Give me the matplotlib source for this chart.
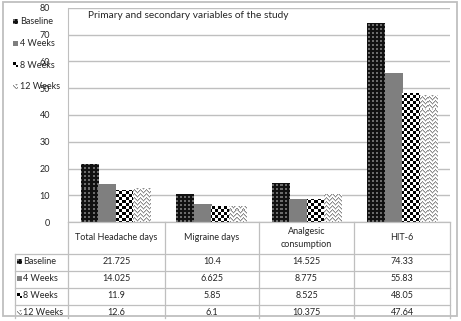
import numpy as np
import matplotlib
matplotlib.use("Agg")
import matplotlib.pyplot as plt
from matplotlib.patches import Rectangle

categories = ["Total Headache days", "Migraine days", "Analgesic\nconsumption", "HIT-6"]
series_names = ["Baseline", "4 Weeks", "8 Weeks", "12 Weeks"]
baseline = [21.725, 10.4, 14.525, 74.33]
weeks4 = [14.025, 6.625, 8.775, 55.83]
weeks8 = [11.9, 5.85, 8.525, 48.05]
weeks12 = [12.6, 6.1, 10.375, 47.64]
table_text = [["21.725", "10.4", "14.525", "74.33"],
              ["14.025", "6.625", "8.775", "55.83"],
              ["11.9", "5.85", "8.525", "48.05"],
              ["12.6", "6.1", "10.375", "47.64"]]
yticks = [0, 10, 20, 30, 40, 50, 60, 70, 80]
title = "Primary and secondary variables of the study"

plt.rcParams['font.family'] = ['Lato', 'DejaVu Sans']
W, H = 461, 321
fig = plt.figure(figsize=(W / 100, H / 100), dpi=100)

def texture(kind, h, w):
    r = np.arange(h)[:, None]
    c = np.arange(w)[None, :]
    img = np.ones((h, w, 3))
    if kind == "dots":
        img[:] = 0.07
        m = ((r % 4) < 2) & ((c % 4) < 2)
        img[np.broadcast_to(m, (h, w))] = 0.42
    elif kind == "gray":
        img[:] = 0.5
    elif kind == "checker":
        m = (((r // 3) + (c // 3)) % 2) == 0
        img[np.broadcast_to(m, (h, w))] = 0.0
    elif kind == "zigzag":
        tri = np.abs(((c % 6) - 3))  # 3,2,1,0,1,2
        m = ((r + tri) % 4) == 0
        img[np.broadcast_to(m, (h, w))] = 0.55
        m2 = ((r + tri) % 4) == 1
        img[np.broadcast_to(m2, (h, w))] = 0.8
    return img

kinds = ["dots", "gray", "checker", "zigzag"]
grid_col = "#bfbfbf"
txt_col = "#262626"

# main axes
L, R, T, B = 68, 450, 8, 222
ax = fig.add_axes([L / W, 1 - B / H, (R - L) / W, (B - T) / H])
x = np.arange(len(categories))
bw = 0.183
all_series = [baseline, weeks4, weeks8, weeks12]
for i, vals in enumerate(all_series):
    bars = ax.bar(x + (i - 1.5) * bw, vals, bw, color="white", linewidth=0, zorder=2)
    tex = texture(kinds[i], B - T, R - L)
    for b in bars:
        im = ax.imshow(tex, extent=(-0.5, 3.5, 0, 80), aspect="auto",
                       interpolation="nearest", zorder=3)
        im.set_clip_path(b)
ax.set_xlim(-0.5, 3.5)
ax.set_ylim(0, 80)
ax.set_yticks(yticks)
ax.set_yticklabels([str(v) for v in yticks], fontsize=6.5, color=txt_col)
ax.tick_params(axis="y", length=0, pad=13)
ax.set_xticks([])
for s in ax.spines.values():
    s.set_visible(False)
ax.spines["left"].set_visible(True)
ax.spines["left"].set_color(grid_col)
ax.grid(axis="y", color=grid_col, linewidth=1.0, zorder=0)
ax.set_axisbelow(True)
ax.text(88, 16, title, transform=None, fontsize=7.3, color=txt_col, va="center")
ax.texts[-1].set_transform(matplotlib.transforms.IdentityTransform())

# overlay for table/legend/border
ov = fig.add_axes([0, 0, 1, 1], zorder=5)
ov.set_xlim(0, W)
ov.set_ylim(H, 0)
ov.axis("off")
ov.patch.set_alpha(0)

ov.add_patch(Rectangle((3, 2), 454, 314, fill=False, edgecolor=grid_col, linewidth=1.3))

# title (in overlay pixel coords)
ax.texts[-1].remove()
ov.text(88, 16, title, fontsize=7.3, color=txt_col, va="center", ha="left")

col_edges = [68, 165, 259, 354, 450]
row_edges = [254, 271, 288, 305, 322]
lw = 0.9
# header
ov.plot([68, 450], [222, 222], color=grid_col, lw=lw)
for xe in col_edges:
    ov.plot([xe, xe], [222, 318], color=grid_col, lw=lw)
ov.plot([15, 15], [254, 318], color=grid_col, lw=lw)
for ye in row_edges[:-1]:
    ov.plot([15, 450], [ye, ye], color=grid_col, lw=lw)
for j, cat in enumerate(categories):
    cx = (col_edges[j] + col_edges[j + 1]) / 2
    ov.text(cx, 238, cat, ha="center", va="center", fontsize=6.5, color=txt_col,
            linespacing=1.5)

def key(xk, yc, kind, s=5):
    tex = texture(kind, 12, 12)[:s, :s]
    ov.imshow(tex, extent=(xk, xk + s, yc + s / 2, yc - s / 2), aspect="auto",
              interpolation="nearest", zorder=6)

for i, name in enumerate(series_names):
    yc = (row_edges[i] + row_edges[i + 1]) / 2 - 1
    key(17, yc, kinds[i])
    ov.text(23, yc, name, ha="left", va="center", fontsize=6.5, color=txt_col)
    for j in range(4):
        cx = (col_edges[j] + col_edges[j + 1]) / 2
        ov.text(cx, yc, table_text[i][j], ha="center", va="center", fontsize=6.5,
                color=txt_col)

# left legend
for i, name in enumerate(series_names):
    yc = 22 + i * 21.5
    key(13, yc, kinds[i])
    ov.text(20, yc, name, ha="left", va="center", fontsize=6.5, color=txt_col)

ov.set_xlim(0, W)
ov.set_ylim(H, 0)
fig.savefig("out.png", dpi=100)
